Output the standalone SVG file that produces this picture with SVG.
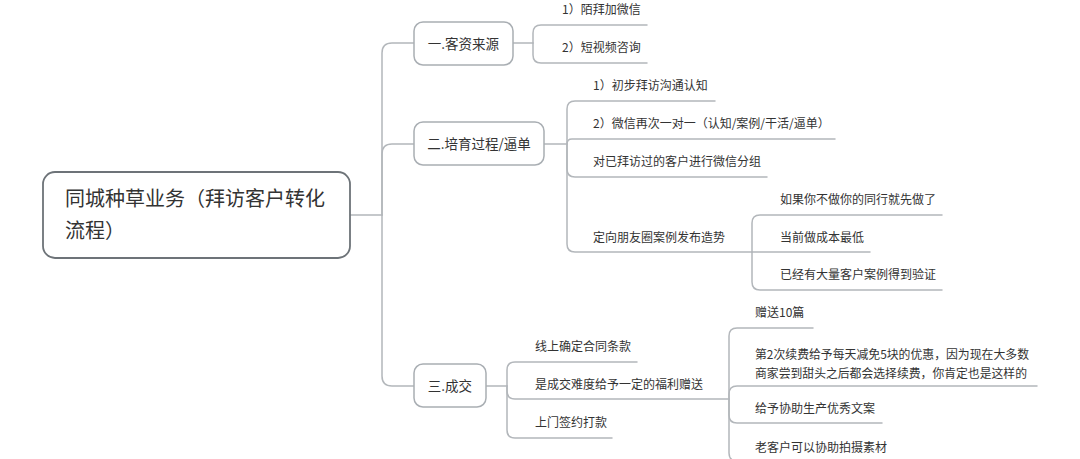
<svg xmlns="http://www.w3.org/2000/svg" width="1080" height="459" viewBox="0 0 1080 459">
<style>
  .bg{fill:#ffffff}
  .ln{fill:none;stroke:#b3b7bb;stroke-width:1.5;stroke-linecap:round}
  .root{fill:#ffffff;stroke:#6d7378;stroke-width:1.8}
  .box{fill:#ffffff;stroke:#a9aeb3;stroke-width:1.5}
  text{font-family:"Noto Sans CJK SC","Noto Sans",sans-serif;fill:#333333}
  .t20{font-size:20px}
  .t13{font-size:13.5px}
  .t12{font-size:12px}
</style>
<rect class="bg" x="0" y="0" width="1080" height="459"/>
<g id="connectors">
  <path class="ln" d="M350,215 H382"/>
  <path class="ln" d="M382,215 V53 Q382,43 392,43 H414"/>
  <path class="ln" d="M382,215 V154 Q382,144 392,144 H414"/>
  <path class="ln" d="M382,215 V376 Q382,386 392,386 H414"/>
  <path class="ln" d="M513,43 H533"/>
  <path class="ln" d="M533,43 V33 Q533,25 541,25 H647"/>
  <path class="ln" d="M533,43 V55 Q533,63 541,63 H647"/>
  <path class="ln" d="M544,144 H567"/>
  <path class="ln" d="M567,144 V109 Q567,101 575,101 H715"/>
  <path class="ln" d="M567,144 Q567,139 572,139 H835"/>
  <path class="ln" d="M567,144 V169 Q567,177 575,177 H767"/>
  <path class="ln" d="M567,144 V244 Q567,252 575,252 H752"/>
  <path class="ln" d="M752,252 V223 Q752,215 760,215 H942"/>
  <path class="ln" d="M752,252 H870"/>
  <path class="ln" d="M752,252 V282 Q752,290 760,290 H942"/>
  <path class="ln" d="M486,386 H507"/>
  <path class="ln" d="M507,386 V370 Q507,362 515,362 H637"/>
  <path class="ln" d="M507,386 V391 Q507,399 515,399 H729"/>
  <path class="ln" d="M507,386 V430 Q507,438 515,438 H612"/>
  <path class="ln" d="M729,399 V336 Q729,328 737,328 H813"/>
  <path class="ln" d="M729,399 V394 Q729,386 737,386 H1037"/>
  <path class="ln" d="M729,399 V415 Q729,423 737,423 H882"/>
  <path class="ln" d="M729,399 V453 Q729,461 737,461 H900"/>
</g>
<g id="root">
  <rect class="root" x="43" y="172" width="307" height="86" rx="12"/>
  <text class="t20" x="65" y="206">同城种草业务（拜访客户转化</text>
  <text class="t20" x="65" y="238">流程）</text>
</g>
<g id="b1">
  <rect class="box" x="414" y="22" width="99" height="43" rx="9"/>
  <text class="t13" x="463.5" y="48.5" text-anchor="middle">一.客资来源</text>
</g>
<g id="b1c1"><text class="t12" x="562" y="14">1）陌拜加微信</text></g>
<g id="b1c2"><text class="t12" x="562" y="52">2）短视频咨询</text></g>
<g id="b2">
  <rect class="box" x="414" y="122" width="130" height="43" rx="9"/>
  <text class="t13" x="479" y="148.5" text-anchor="middle">二.培育过程/逼单</text>
</g>
<g id="b2c1"><text class="t12" x="593" y="90">1）初步拜访沟通认知</text></g>
<g id="b2c2"><text class="t12" x="593" y="128">2）微信再次一对一（认知/案例/干活/逼单）</text></g>
<g id="b2c3"><text class="t12" x="593" y="166">对已拜访过的客户进行微信分组</text></g>
<g id="b2c4"><text class="t12" x="593" y="242">定向朋友圈案例发布造势</text></g>
<g id="b2c4a"><text class="t12" x="780" y="204">如果你不做你的同行就先做了</text></g>
<g id="b2c4b"><text class="t12" x="780" y="242">当前做成本最低</text></g>
<g id="b2c4c"><text class="t12" x="780" y="279">已经有大量客户案例得到验证</text></g>
<g id="b3">
  <rect class="box" x="414" y="364" width="72" height="43" rx="9"/>
  <text class="t13" x="450" y="390.5" text-anchor="middle">三.成交</text>
</g>
<g id="b3c1"><text class="t12" x="535" y="351">线上确定合同条款</text></g>
<g id="b3c2"><text class="t12" x="535" y="389">是成交难度给予一定的福利赠送</text></g>
<g id="b3c3"><text class="t12" x="535" y="427">上门签约打款</text></g>
<g id="b3c2a"><text class="t12" x="755" y="317">赠送10篇</text></g>
<g id="b3c2b">
  <text class="t12" x="755" y="359" textLength="274" lengthAdjust="spacingAndGlyphs">第2次续费给予每天减免5块的优惠，因为现在大多数</text>
  <text class="t12" x="755" y="378" textLength="272" lengthAdjust="spacingAndGlyphs">商家尝到甜头之后都会选择续费，你肯定也是这样的</text>
</g>
<g id="b3c2c"><text class="t12" x="755" y="413">给予协助生产优秀文案</text></g>
<g id="b3c2d"><text class="t12" x="755" y="452">老客户可以协助拍摄素材</text></g>
</svg>
